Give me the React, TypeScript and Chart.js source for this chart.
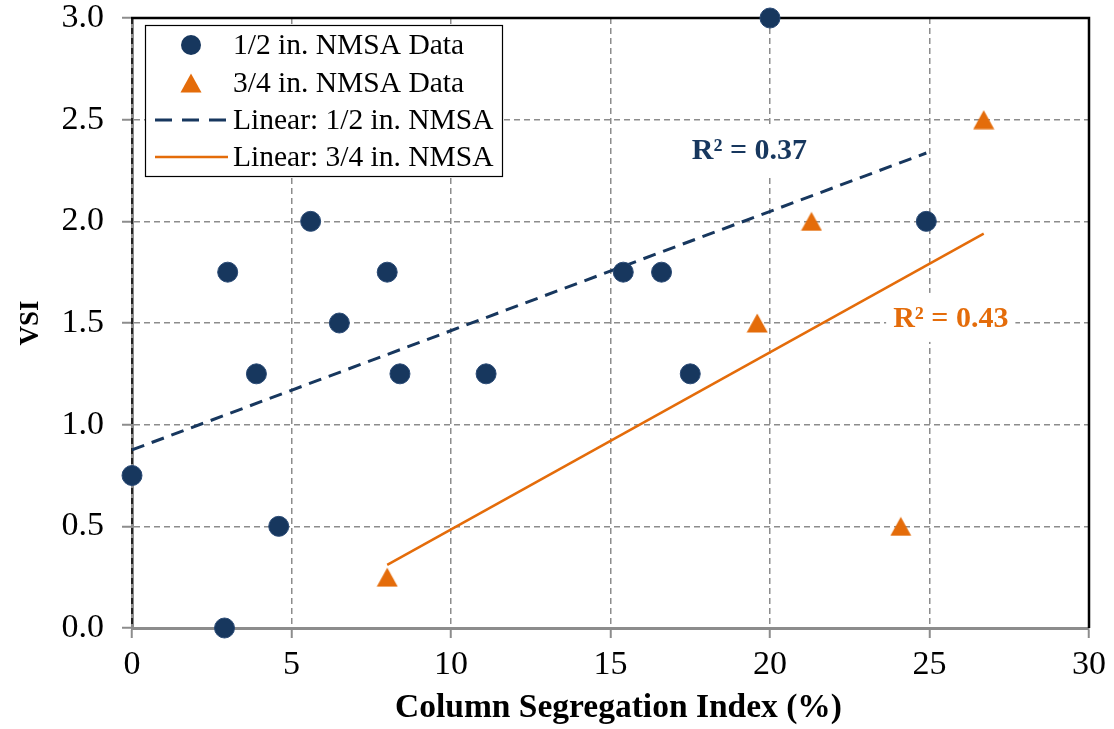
import React, { useEffect, useRef } from 'react';
import { Chart, registerables } from 'chart.js';

Chart.register(...registerables);

// ---- data ----
const halfX = [0, 2.9, 3.0, 3.9, 4.6, 5.6, 6.5, 8.0, 8.4, 11.1, 15.4, 16.6, 17.5, 20.0, 24.9];
const halfY = [0.75, 0.0, 1.75, 1.25, 0.5, 2.0, 1.5, 1.75, 1.25, 1.25, 1.75, 1.75, 1.25, 3.0, 2.0];
const threeQX = [8.0, 19.6, 21.3, 24.1, 26.7];
const threeQY = [0.25, 1.5, 2.0, 0.5, 2.5];
const trendHalfX = [0, 24.9];
const trendHalfY = [0.876, 2.336];
const trendThreeQX = [8.0, 26.7];
const trendThreeQY = [0.31, 1.94];
const xTickValues = [0, 5, 10, 15, 20, 25, 30];
const yTickValues = [0, 0.5, 1.0, 1.5, 2.0, 2.5, 3.0];
const legendLabels = ['1/2 in. NMSA Data', '3/4 in. NMSA Data', 'Linear: 1/2 in. NMSA', 'Linear: 3/4 in. NMSA'];
const r2Texts = ['R² = 0.37', 'R² = 0.43'];
const r2AnchorX = [17.55, 23.86];
const r2AnchorY = [2.35, 1.525];
const xTitle = 'Column Segregation Index (%)';
const yTitle = 'VSI';

const NAVY = '#17375E';
const ORANGE = '#E46C0A';
const GRID = '#8c8c8c';
const FONT = '"Liberation Serif", "Times New Roman", serif';

const zip = (xs: number[], ys: number[]) => xs.map((x, i) => ({ x, y: ys[i] }));

export default function App() {
  const ref = useRef<HTMLCanvasElement>(null);

  useEffect(() => {
    document.body.style.margin = '0';
    const canvas = ref.current!;
    const tri = document.createElement('canvas');
    tri.width = 22;
    tri.height = 20;
    const tc = tri.getContext('2d')!;
    tc.fillStyle = ORANGE;
    tc.beginPath();
    tc.moveTo(11, 0.5);
    tc.lineTo(21.5, 19.5);
    tc.lineTo(0.5, 19.5);
    tc.closePath();
    tc.fill();

    const overlay = {
      id: 'overlay',
      beforeDatasetsDraw(chart: any) {
        const { ctx, chartArea: a } = chart;
        ctx.save();
        ctx.strokeStyle = '#000';
        ctx.lineWidth = 1.5;
        ctx.setLineDash([6, 4]);
        ctx.beginPath();
        ctx.moveTo(a.left, a.top);
        ctx.lineTo(a.left, a.bottom);
        ctx.stroke();
        ctx.setLineDash([]);
        ctx.lineWidth = 2.5;
        ctx.beginPath();
        ctx.moveTo(a.left - 1, a.top);
        ctx.lineTo(a.right, a.top);
        ctx.lineTo(a.right, a.bottom);
        ctx.stroke();
        ctx.restore();
      },
      afterDraw(chart: any) {
        const { ctx, chartArea: a, scales } = chart;
        ctx.save();
        ctx.font = 'bold 30px ' + FONT;
        ctx.textBaseline = 'middle';
        ctx.textAlign = 'left';
        [NAVY, ORANGE].forEach((col, i) => {
          const px = scales.x.getPixelForValue(r2AnchorX[i]);
          const py = scales.y.getPixelForValue(r2AnchorY[i]);
          const w = ctx.measureText(r2Texts[i]).width;
          ctx.fillStyle = '#fff';
          ctx.fillRect(px - 7, py - 25, w + 14, 49);
          ctx.fillStyle = col;
          ctx.fillText(r2Texts[i], px, py + 1);
        });
        const lx = 145, ly = 25, lw = 357, lh = 151;
        ctx.fillStyle = '#fff';
        ctx.fillRect(lx, ly, lw, lh);
        ctx.strokeStyle = '#000';
        ctx.lineWidth = 1.2;
        ctx.strokeRect(lx + 0.5, ly + 0.5, lw, lh);
        const rows = [45, 83, 120, 157];
        const mx = 191;
        ctx.fillStyle = NAVY;
        ctx.beginPath();
        ctx.arc(mx, rows[0], 10, 0, Math.PI * 2);
        ctx.fill();
        ctx.drawImage(tri, mx - 11, rows[1] - 10);
        ctx.lineWidth = 3;
        ctx.strokeStyle = NAVY;
        ctx.setLineDash([17, 10]);
        ctx.beginPath();
        ctx.moveTo(155, rows[2]);
        ctx.lineTo(228, rows[2]);
        ctx.stroke();
        ctx.setLineDash([]);
        ctx.strokeStyle = ORANGE;
        ctx.lineWidth = 2.5;
        ctx.beginPath();
        ctx.moveTo(155, rows[3]);
        ctx.lineTo(228, rows[3]);
        ctx.stroke();
        ctx.fillStyle = '#000';
        ctx.font = '29.5px ' + FONT;
        ctx.textBaseline = 'middle';
        legendLabels.forEach((t, i) => ctx.fillText(t, 233, rows[i] + 1));
        ctx.font = 'bold 33.5px ' + FONT;
        ctx.textAlign = 'center';
        ctx.textBaseline = 'alphabetic';
        ctx.fillText(xTitle, (a.left + a.right) / 2 + 8, 717);
        ctx.save();
        ctx.translate(38, (a.top + a.bottom) / 2);
        ctx.rotate(-Math.PI / 2);
        ctx.font = 'bold 27px ' + FONT;
        ctx.fillText(yTitle, 0, 0);
        ctx.restore();
        ctx.restore();
      },
    };

    const chart = new Chart(canvas, {
      type: 'scatter',
      data: {
        datasets: [
          {
            label: legendLabels[0],
            data: zip(halfX, halfY),
            backgroundColor: NAVY,
            borderColor: '#2a4a75',
            borderWidth: 1,
            pointRadius: 10,
            pointHoverRadius: 10,
            clip: false,
          } as any,
          {
            label: legendLabels[1],
            data: zip(threeQX, threeQY),
            pointStyle: tri,
            pointRadius: 10,
            pointHoverRadius: 10,
            clip: false,
          } as any,
          {
            label: legendLabels[2],
            data: zip(trendHalfX, trendHalfY),
            showLine: true,
            borderColor: NAVY,
            borderWidth: 3,
            borderDash: [13, 8],
            pointRadius: 0,
            fill: false,
          },
          {
            label: legendLabels[3],
            data: zip(trendThreeQX, trendThreeQY),
            showLine: true,
            borderColor: ORANGE,
            borderWidth: 2.5,
            pointRadius: 0,
            fill: false,
          },
        ],
      },
      options: {
        responsive: false,
        animation: false,
        events: [],
        layout: { padding: { top: 18, right: 25, left: 0, bottom: 0 } },
        plugins: { legend: { display: false }, tooltip: { enabled: false }, title: { display: false } },
        scales: {
          x: {
            type: 'linear',
            min: 0,
            max: 30,
            afterFit: (s: any) => { s.height = 101; s.paddingLeft = 0; s.paddingRight = 0; },
            afterBuildTicks: (s: any) => { s.ticks = xTickValues.map((v) => ({ value: v })); },
            ticks: {
              color: '#000',
              font: { family: FONT, size: 34, lineHeight: 1.05 },
              padding: 9,
              maxRotation: 0,
              callback: (v: any) => String(v),
            },
            grid: {
              color: (c: any) => (c.tick && (c.tick.value === 0 || c.tick.value === 30) ? 'rgba(0,0,0,0)' : GRID),
              lineWidth: 1.5,
              tickColor: GRID,
              tickLength: 10,
              tickWidth: 2,
              tickBorderDash: [],
            },
            border: { display: true, color: GRID, width: 3, dash: [6, 4] },
          },
          y: {
            type: 'linear',
            min: 0,
            max: 3,
            afterFit: (s: any) => { s.width = 132; s.paddingTop = 0; s.paddingBottom = 0; },
            afterBuildTicks: (s: any) => { s.ticks = yTickValues.map((v) => ({ value: v })); },
            ticks: {
              color: '#000',
              font: { family: FONT, size: 34, lineHeight: 1.05 },
              padding: 18,
              callback: (v: any) => Number(v).toFixed(1),
            },
            grid: {
              color: (c: any) => (c.tick && (c.tick.value === 0 || c.tick.value === 3) ? 'rgba(0,0,0,0)' : GRID),
              lineWidth: 1.5,
              tickColor: GRID,
              tickLength: 10,
              tickWidth: 2,
              tickBorderDash: [],
            },
            border: { display: true, color: GRID, width: 3, dash: [6, 4] },
          },
        },
      },
      plugins: [overlay],
    });
    return () => chart.destroy();
  }, []);

  return (
    <div style={{ width: 1114, height: 729 }}>
      <canvas ref={ref} width={1114} height={729} style={{ display: 'block' }} />
    </div>
  );
}
